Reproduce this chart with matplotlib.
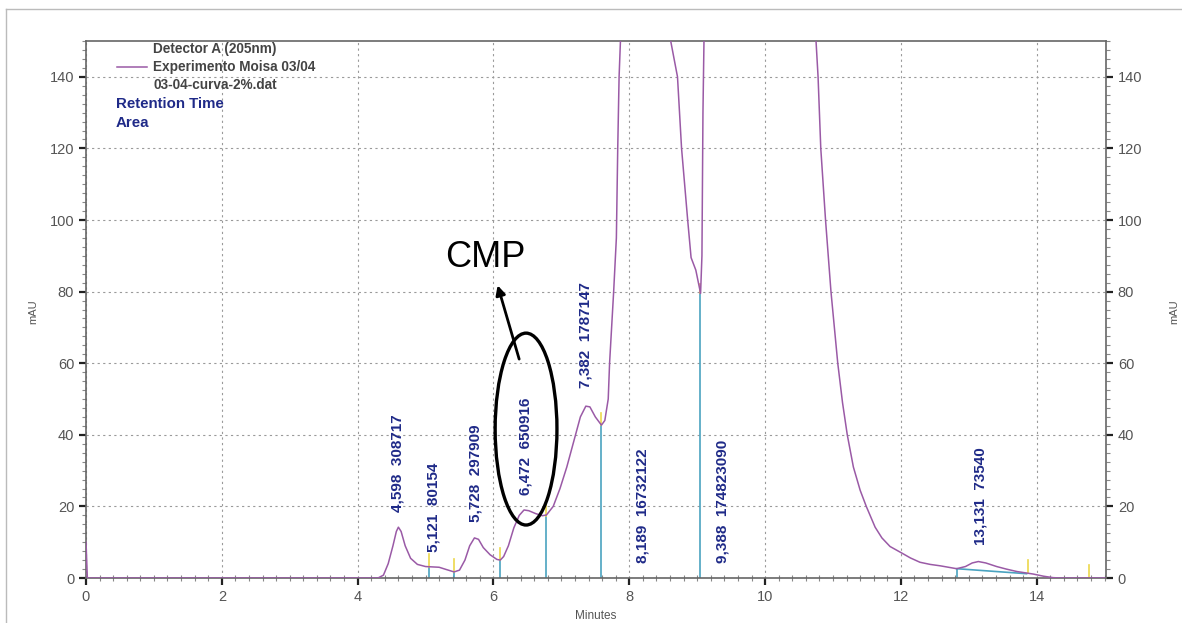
import numpy as np
import matplotlib.pyplot as plt
from matplotlib.patches import Ellipse
from matplotlib.lines import Line2D
from matplotlib.ticker import MultipleLocator

plt.rcParams['font.family'] = ['Liberation Sans', 'DejaVu Sans']

W, H = 1182, 623

# chromatogram trace (minutes, mAU); apexes above 150 are off scale
t_min = [0.0, 0.02, 4.30, 4.38, 4.45, 4.52, 4.57, 4.60, 4.64, 4.70, 4.78, 4.88, 5.00, 5.10,
         5.20, 5.30, 5.42, 5.50, 5.58, 5.65, 5.72, 5.78, 5.85, 5.95, 6.05, 6.10, 6.15, 6.22,
         6.30, 6.38, 6.45, 6.52, 6.62, 6.72, 6.78, 6.88, 6.98, 7.08, 7.18, 7.28, 7.36, 7.42,
         7.50, 7.59, 7.64, 7.69, 7.71, 7.77, 7.81, 7.83, 7.85, 7.87, 8.25, 8.61, 8.71, 8.77,
         8.86, 8.91, 8.98, 9.05, 9.07, 9.085, 9.10, 9.60, 10.75, 10.78, 10.82, 10.89, 10.97,
         11.07, 11.14, 11.21, 11.30, 11.40, 11.49, 11.62, 11.72, 11.84, 12.01, 12.14, 12.28,
         12.43, 12.58, 12.70, 12.82, 12.95, 13.05, 13.14, 13.25, 13.41, 13.55, 13.71, 13.95,
         14.10, 14.24, 14.35, 15.0]
mau = [10.0, 0.0, 0.0, 0.8, 4.0, 9.0, 13.0, 14.2, 13.0, 9.0, 5.5, 3.8, 3.2, 3.1,
       3.0, 2.4, 1.7, 2.2, 5.0, 9.0, 11.2, 10.8, 8.5, 6.5, 5.2, 5.0, 6.0, 9.0,
       14.0, 17.5, 19.0, 18.8, 18.0, 17.4, 17.6, 20.0, 25.0, 31.0, 38.0, 45.0, 48.0, 47.8,
       45.0, 42.7, 44.0, 50.0, 60.0, 80.0, 95.0, 120.0, 140.0, 150.0, 600.0, 150.0, 140.0, 120.0,
       100.0, 89.5, 86.0, 79.5, 90.0, 130.0, 150.0, 900.0, 150.0, 140.0, 120.0, 100.0, 80.0,
       60.0, 49.0, 40.0, 31.0, 24.5, 20.0, 14.2, 11.2, 8.8, 7.0, 5.6, 4.4,
       3.8, 3.4, 3.0, 2.6, 3.2, 4.2, 4.6, 4.2, 3.2, 2.5, 1.8, 1.1,
       0.5, 0.1, 0.0, 0.0]

# integration cut marks: time, signal at the cut
cut_t = [5.05, 5.42, 6.10, 6.77, 7.59, 9.04]
cut_y = [3.1, 1.7, 5.0, 17.4, 42.7, 79.5]
baseline_t = [12.82, 13.85]
baseline_y = [2.6, 1.2]
extra_marks_t = [13.87, 14.77]
extra_marks_y = [1.5, 0.0]

# peak annotations
peak_labels = ['4,598  308717', '5,121  80154', '5,728  297909', '6,472  650916',
               '7,382  1787147', '8,189  16732122', '9,388  174823090', '13,131  73540']
label_x = [4.58, 5.11, 5.73, 6.47, 7.36, 8.19, 9.37, 13.17]
label_y = [18.4, 7.3, 15.6, 23.2, 53.1, 4.2, 4.2, 9.2]

trace_col = '#9a5aa6'
cyan = '#4aa3c0'
yellow = '#ecd84a'
navy = '#1f2a88'
gray = '#555555'

fig = plt.figure(figsize=(W / 100, H / 100), dpi=100)
ax = fig.add_axes([86 / W, 1 - 578 / H, (1106 - 86) / W, (578 - 41) / H])

ax.set_xlim(0, 15.02)
ax.set_ylim(0, 150)
ax.xaxis.set_major_locator(MultipleLocator(2))
ax.xaxis.set_minor_locator(MultipleLocator(0.2))
ax.yaxis.set_major_locator(MultipleLocator(20))
ax.yaxis.set_minor_locator(MultipleLocator(2.5))
ax.grid(True, which='major', color='#9a9a9a', linestyle=(0, (2, 3)), linewidth=0.8)
ax.set_axisbelow(True)

for s in ax.spines.values():
    s.set_color('#666666')
    s.set_linewidth(1.2)

ax.tick_params(which='both', left=True, right=True, labelleft=True, labelright=True,
               top=False, colors='#333333', labelcolor=gray, labelsize=10.5)
ax.tick_params(which='major', direction='out', length=5, width=1.6, color='#222222')
ax.tick_params(which='minor', direction='out', length=3, width=0.8, color='#888888')
ax.tick_params(axis='x', which='minor', direction='inout', length=5)

# cut marks
for t, y in zip(cut_t, cut_y):
    ax.plot([t, t], [0, y], color=cyan, lw=1.2, zorder=2)
for t, y in zip(cut_t[:-1], cut_y[:-1]):
    ax.plot([t, t], [y, y + 3.5], color=yellow, lw=1.2, zorder=2)
ax.plot([cut_t[-1], cut_t[-1]], [cut_y[-1], cut_y[-1] + 2.5], color='#e8a060', lw=1.2, zorder=2)
ax.plot([baseline_t[0], baseline_t[0]], [0, baseline_y[0]], color=cyan, lw=1.2, zorder=2)
ax.plot(baseline_t, baseline_y, color=cyan, lw=1.2, zorder=2)
for t, y in zip(extra_marks_t, extra_marks_y):
    ax.plot([t, t], [y, y + 3.5], color=yellow, lw=1.2, zorder=2)

ax.plot(t_min, mau, color=trace_col, lw=1.1, zorder=3)

for lab, x, y in zip(peak_labels, label_x, label_y):
    ax.text(x, y, lab, rotation=90, ha='center', va='bottom', fontsize=11,
            fontweight='bold', color=navy, zorder=4)

# CMP highlight
ax.add_patch(Ellipse((6.48, 41.6), 0.91, 53.6, fill=False, edgecolor='black', lw=2.4, zorder=5))
ax.annotate('', xy=(6.05, 82.5), xytext=(6.39, 60.4),
            arrowprops=dict(arrowstyle='-|>', color='black', lw=2, mutation_scale=14), zorder=5)
ax.text(5.88, 89.5, 'CMP', fontsize=26, ha='center', va='center', color='black')

# legend block
fig.text(153 / W, 1 - 49 / H, 'Detector A (205nm)', fontsize=9.8, fontweight='bold',
         color='#444444', va='center')
fig.add_artist(Line2D([117 / W, 147 / W], [1 - 67 / H, 1 - 67 / H], color=trace_col, lw=1.1))
fig.text(153 / W, 1 - 67 / H, 'Experimento Moisa 03/04', fontsize=9.8, fontweight='bold',
         color='#444444', va='center')
fig.text(153 / W, 1 - 85 / H, '03-04-curva-2%.dat', fontsize=9.8, fontweight='bold',
         color='#444444', va='center')
fig.text(116 / W, 1 - 104 / H, 'Retention Time', fontsize=10.8, fontweight='bold',
         color=navy, va='center')
fig.text(116 / W, 1 - 123 / H, 'Area', fontsize=10.8, fontweight='bold', color=navy, va='center')

# axis titles
fig.text(33 / W, 1 - 312 / H, 'mAU', rotation=90, fontsize=8, color=gray, ha='center', va='center')
fig.text(1174 / W, 1 - 312 / H, 'mAU', rotation=90, fontsize=8, color=gray, ha='center', va='center')
fig.text(596 / W, 1 - 610 / H, 'Minutes', fontsize=8.5, color=gray, ha='center', va='top')

# outer frame
fig.add_artist(Line2D([6 / W, 1], [1 - 9 / H, 1 - 9 / H], color='#bbbbbb', lw=1))
fig.add_artist(Line2D([6 / W, 6 / W], [0, 1 - 9 / H], color='#bbbbbb', lw=1))

fig.savefig('out.png', dpi=100)
